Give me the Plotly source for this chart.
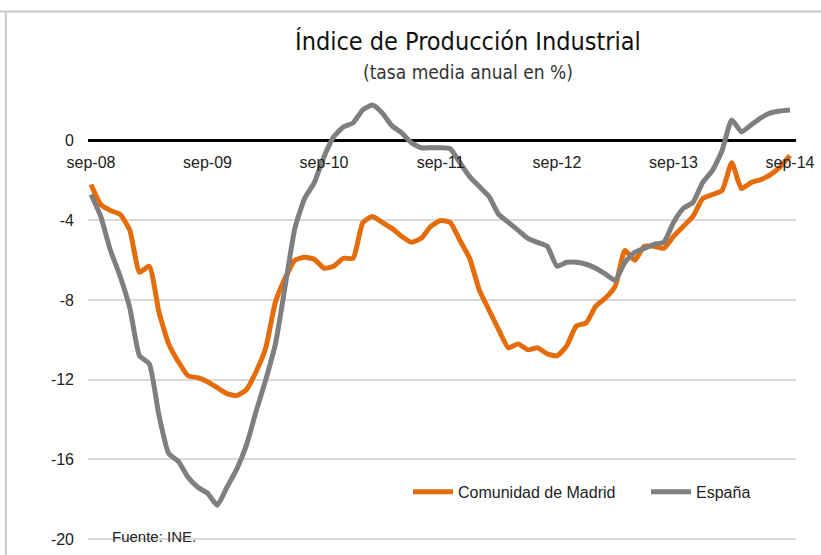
import plotly.graph_objects as go

# Monthly categories sep-08 .. sep-14
month_abbr = ["sep", "oct", "nov", "dic", "ene", "feb", "mar", "abr", "may", "jun", "jul", "ago"]
years = ["08", "09", "10", "11", "12", "13", "14", "15"]
categories = []
for k in range(73):
    m = k % 12
    yr = years[(k + 8) // 12]
    categories.append(f"{month_abbr[m]}-{yr}")

tick_labels = ["sep-08", "sep-09", "sep-10", "sep-11", "sep-12", "sep-13", "sep-14"]

madrid = [
    -2.2, -3.2, -3.5, -3.7, -4.5, -6.6, -6.3, -8.6, -10.2, -11.1, -11.8, -11.9,
    -12.1, -12.4, -12.7, -12.8, -12.5, -11.6, -10.4, -8.1, -6.9, -6.0, -5.85, -5.95,
    -6.4, -6.3, -5.9, -5.9, -4.1, -3.8, -4.1, -4.4, -4.8, -5.1, -4.9, -4.3,
    -4.0, -4.1, -5.0, -5.9, -7.5, -8.5, -9.5, -10.4, -10.2, -10.5, -10.4, -10.7,
    -10.8, -10.3, -9.3, -9.15, -8.3, -7.9, -7.3, -5.5, -6.0, -5.3, -5.3, -5.4,
    -4.8, -4.3, -3.8, -2.9, -2.7, -2.5, -1.1, -2.4, -2.1, -1.95, -1.7, -1.3,
    -0.75,
]

espana = [
    -2.7, -3.8, -5.5, -6.8, -8.4, -10.8, -11.2, -13.8, -15.7, -16.1, -16.9, -17.4,
    -17.7, -18.3, -17.4, -16.5, -15.3, -13.6, -12.0, -10.2, -7.3, -4.4, -2.9, -2.1,
    -0.8, 0.2, 0.7, 0.9, 1.55, 1.8, 1.4, 0.75, 0.4, -0.1, -0.35, -0.35,
    -0.35, -0.4, -1.1, -1.8, -2.3, -2.8, -3.7, -4.1, -4.5, -4.9, -5.1, -5.3,
    -6.3, -6.1, -6.1, -6.2, -6.4, -6.7, -7.0, -6.1, -5.6, -5.4, -5.2, -5.1,
    -4.1, -3.4, -3.1, -2.1, -1.5, -0.5, 1.05, 0.45, 0.8, 1.15, 1.4, 1.5,
    1.55,
]

y_ticks = [0, -4, -8, -12, -16, -20]

ORANGE = "#E46C0A"
GRAY = "#7F7F7F"
FONT = "Liberation Sans Narrow, Arial Narrow, Liberation Sans, Arial, sans-serif"
TFONT = "DejaVu Sans Condensed, Liberation Sans Narrow, Liberation Sans, Arial, sans-serif"

y_min, y_max = -20.1, 2.3

fig = go.Figure()
fig.add_trace(go.Scatter(
    x=categories, y=madrid, name="Comunidad de Madrid", mode="lines",
    line=dict(color=ORANGE, width=5, shape="spline", smoothing=0.5),
    xaxis="x2",
))
fig.add_trace(go.Scatter(
    x=categories, y=espana, name="España", mode="lines",
    line=dict(color=GRAY, width=5, shape="spline", smoothing=0.5),
    xaxis="x2",
))

zero_pos = (0 - y_min) / (y_max - y_min)

fig.update_layout(
    width=821, height=555,
    margin=dict(l=88, r=25, t=95, b=14, autoexpand=False),
    paper_bgcolor="white", plot_bgcolor="white",
    font=dict(family=FONT, size=16, color="#222222"),
    showlegend=True,
    legend=dict(
        orientation="h", x=0.452, y=0.11, xanchor="left", yanchor="middle",
        font=dict(size=16, color="#222222"), itemwidth=40,
        entrywidth=183, entrywidthmode="pixels",
        bgcolor="rgba(0,0,0,0)",
    ),
    xaxis=dict(visible=False, range=[-0.31, 72.62], type="category",
               categoryorder="array", categoryarray=categories, automargin=False),
    xaxis2=dict(
        type="category", categoryorder="array", categoryarray=categories,
        range=[-0.31, 72.62], anchor="free", position=zero_pos, overlaying="x",
        tickmode="array", tickvals=tick_labels, ticktext=tick_labels,
        showgrid=False, showline=False, ticks="", zeroline=False,
        ticklabelstandoff=10, automargin=False,
        tickfont=dict(size=16, color="#222222"),
    ),
    yaxis=dict(
        range=[y_min, y_max], tickmode="array", tickvals=y_ticks,
        ticktext=[str(v) for v in y_ticks],
        showgrid=True, gridcolor="#D9D9D9", gridwidth=1.5,
        zeroline=True, zerolinecolor="#000000", zerolinewidth=2.5,
        showline=False, ticks="", ticklabelstandoff=13, automargin=False,
        tickfont=dict(size=16, color="#222222"),
    ),
    annotations=[
        dict(text="Índice de Producción Industrial", xref="paper", yref="paper",
             x=0.537, y=1.119, xanchor="center", yanchor="middle", showarrow=False,
             font=dict(size=25, color="#111111", family=TFONT)),
        dict(text="(tasa media anual en %)", xref="paper", yref="paper",
             x=0.537, y=1.052, xanchor="center", yanchor="middle", showarrow=False,
             font=dict(size=19, color="#333333", family=TFONT)),
        dict(text="Fuente: INE.", xref="paper", yref="paper",
             x=0.031, y=0.011, xanchor="left", yanchor="middle", showarrow=False,
             font=dict(size=15, color="#222222", family=FONT)),
    ],
    shapes=[
        dict(type="line", xref="paper", yref="paper", x0=-0.125, x1=1.05,
             y0=1.187, y1=1.187, line=dict(color="#C8C8C8", width=2)),
        dict(type="line", xref="paper", yref="paper", x0=-0.116, x1=-0.116,
             y0=1.187, y1=-0.05, line=dict(color="#C8C8C8", width=2)),
    ],
)

fig.write_html("out.html", config={"displayModeBar": False},
               post_script="document.body.style.margin='0px';")
